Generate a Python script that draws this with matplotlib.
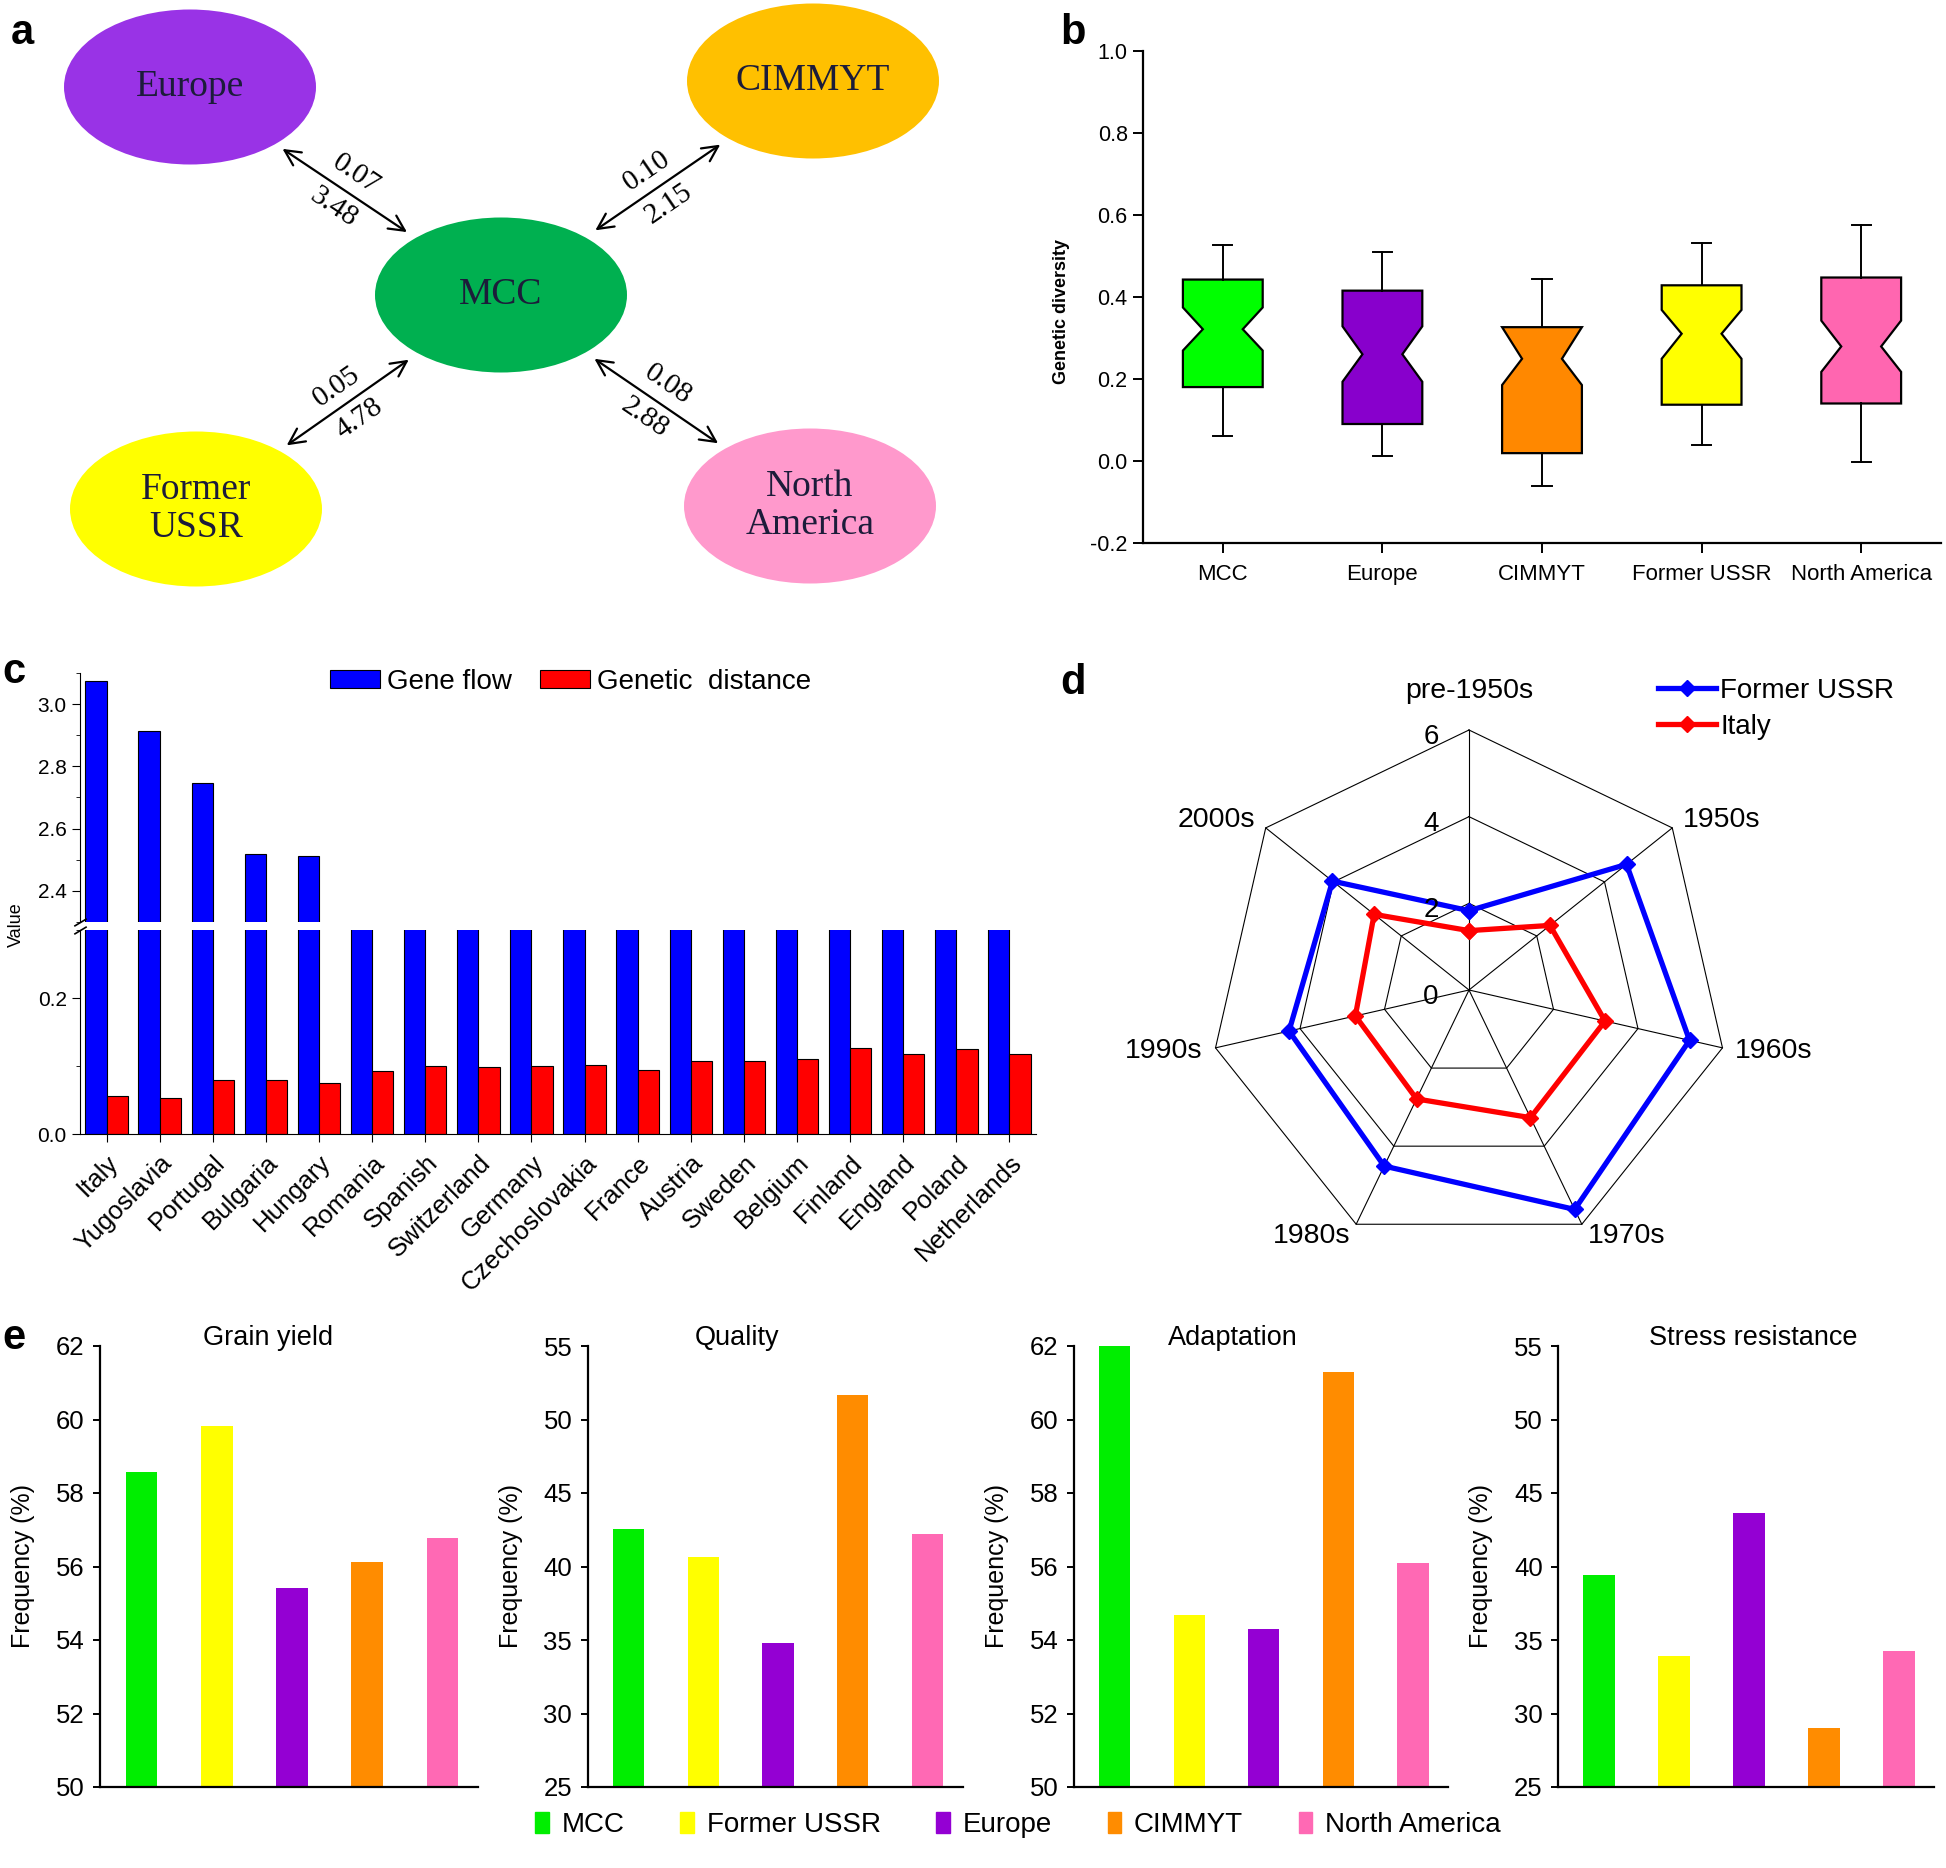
import numpy as np
import matplotlib
matplotlib.use("Agg")
import matplotlib.pyplot as plt
from matplotlib.patches import Ellipse, Patch
from matplotlib.lines import Line2D
from matplotlib.ticker import MultipleLocator, FormatStrFormatter

W, H = 1946, 1868
plt.rcParams['font.family'] = ['Liberation Sans', 'DejaVu Sans']

# ---- a: distance / gene flow between MCC and the other groups
net_groups = ['Europe', 'CIMMYT', 'Former\nUSSR', 'North\nAmerica']
net_distance = [0.07, 0.10, 0.05, 0.08]
net_geneflow = [3.48, 2.15, 4.78, 2.88]

# ---- b: genetic diversity (notched box stats)
regions = ['MCC', 'Europe', 'CIMMYT', 'Former USSR', 'North America']
gd_whislo = [0.061, 0.011, -0.061, 0.040, -0.003]
gd_q1 = [0.180, 0.090, 0.019, 0.137, 0.140]
gd_cilo = [0.269, 0.193, 0.185, 0.249, 0.217]
gd_med = [0.321, 0.260, 0.249, 0.310, 0.279]
gd_cihi = [0.374, 0.328, 0.326, 0.368, 0.342]
gd_q3 = [0.442, 0.415, 0.326, 0.428, 0.447]
gd_whishi = [0.526, 0.509, 0.444, 0.530, 0.575]
region_colors = ['#00ff00', '#8800cc', '#ff8800', '#ffff00', '#ff66b0']

# ---- c: MCC vs European countries
countries = ['Italy', 'Yugoslavia', 'Portugal', 'Bulgaria', 'Hungary', 'Romania',
             'Spanish', 'Switzerland', 'Germany', 'Czechoslovakia', 'France', 'Austria',
             'Sweden', 'Belgium', 'Finland', 'England', 'Poland', 'Netherlands']
gene_flow = [3.073, 2.915, 2.748, 2.518, 2.512, 2.21, 2.16, 2.13, 2.10, 2.06,
             2.03, 1.98, 1.95, 1.90, 1.85, 1.82, 1.78, 1.74]
gen_distance = [0.056, 0.053, 0.079, 0.079, 0.075, 0.093, 0.100, 0.098, 0.100,
                0.102, 0.094, 0.107, 0.108, 0.111, 0.126, 0.117, 0.125, 0.118]

# ---- d: cultivars per decade
decades = ['pre-1950s', '1950s', '1960s', '1970s', '1980s', '1990s', '2000s']
ussr_vals = [1.83, 4.65, 5.22, 5.62, 4.51, 4.26, 4.03]
italy_vals = [1.37, 2.39, 3.22, 3.27, 2.79, 2.69, 2.80]

# ---- e: trait frequencies
e_groups = ['MCC', 'Former USSR', 'Europe', 'CIMMYT', 'North America']
e_colors = ['#00ee00', '#ffff00', '#9400d3', '#ff8c00', '#ff69b4']
trait_names = ['Grain yield', 'Quality', 'Adaptation', 'Stress resistance']
grain_yield = [58.58, 59.81, 55.42, 56.11, 56.77]
quality = [42.53, 40.65, 34.79, 51.65, 42.21]
adaptation = [62.0, 54.68, 54.31, 61.29, 56.10]
stress_res = [39.42, 33.93, 43.66, 29.00, 34.25]

fig = plt.figure(figsize=(W / 100, H / 100), dpi=100)


def px_axes(l, t, r, b, **kw):
    return fig.add_axes([l / W, 1 - b / H, (r - l) / W, (b - t) / H], **kw)


# ================= a =================
axa = px_axes(0, 0, 1000, 620)
axa.set_xlim(0, 1000)
axa.set_ylim(620, 0)
axa.axis('off')
serif = ['Liberation Serif', 'DejaVu Serif']
centres = {'MCC': (501, 295), 'Europe': (190, 87), 'CIMMYT': (813, 81),
           'Former\nUSSR': (196, 509), 'North\nAmerica': (810, 506)}
fills = {'MCC': '#00b050', 'Europe': '#9933e6', 'CIMMYT': '#ffc000',
         'Former\nUSSR': '#ffff00', 'North\nAmerica': '#ff99cc'}
for name, (cx, cy) in centres.items():
    axa.add_patch(Ellipse((cx, cy), 252, 155, facecolor=fills[name], edgecolor='none'))
    axa.text(cx, cy, name, ha='center', va='center', fontsize=27, family=serif,
             color='#1c1c3a', linespacing=1.15)

mx, my = centres['MCC']
for g, dist, nm in zip(net_groups, net_distance, net_geneflow):
    gx, gy = centres[g]
    p0 = (gx + 0.29 * (mx - gx), gy + 0.29 * (my - gy))
    p1 = (gx + 0.705 * (mx - gx), gy + 0.705 * (my - gy))
    axa.annotate('', xy=p1, xytext=p0,
                 arrowprops=dict(arrowstyle='<->', lw=1.6, color='k', mutation_scale=28))
    dx, dy = p1[0] - p0[0], p1[1] - p0[1]
    ln = np.hypot(dx, dy)
    ux, uy = dx / ln, dy / ln
    nx, ny = uy, -ux
    if ny > 0:
        nx, ny = -nx, -ny
    ang = np.degrees(np.arctan2(-dy, dx))
    if ang > 90:
        ang -= 180
    if ang < -90:
        ang += 180
    cxm, cym = (p0[0] + p1[0]) / 2, (p0[1] + p1[1]) / 2
    axa.text(cxm + 20 * nx, cym + 20 * ny, f'{dist:.2f}', rotation=ang, rotation_mode='anchor',
             ha='center', va='center', fontsize=21, family=serif)
    axa.text(cxm - 20 * nx, cym - 20 * ny, f'{nm:.2f}', rotation=ang, rotation_mode='anchor',
             ha='center', va='center', fontsize=21, family=serif)

# ================= b =================
axb = px_axes(1143, 50.6, 1941, 543)
stats = []
for i in range(len(regions)):
    stats.append(dict(med=gd_med[i], q1=gd_q1[i], q3=gd_q3[i], whislo=gd_whislo[i],
                      whishi=gd_whishi[i], cilo=gd_cilo[i], cihi=gd_cihi[i], fliers=[]))
bp = axb.bxp(stats, positions=range(1, 6), widths=0.5, shownotches=True, patch_artist=True,
             showfliers=False, capwidths=0.12,
             boxprops=dict(edgecolor='k', linewidth=1.6),
             whiskerprops=dict(color='k', linewidth=1.4),
             capprops=dict(color='k', linewidth=1.4),
             medianprops=dict(linewidth=0))
for patch, c in zip(bp['boxes'], region_colors):
    patch.set_facecolor(c)
axb.set_xlim(0.5, 5.5)
axb.set_ylim(-0.2, 1.0)
axb.yaxis.set_major_locator(MultipleLocator(0.2))
axb.yaxis.set_major_formatter(FormatStrFormatter('%.1f'))
axb.set_xticks(range(1, 6))
axb.set_xticklabels(regions)
for s in ['top', 'right']:
    axb.spines[s].set_visible(False)
for s in ['left', 'bottom']:
    axb.spines[s].set_linewidth(1.6)
axb.tick_params(axis='both', direction='out', length=7, width=1.4)
axb.tick_params(axis='y', labelsize=15.5, pad=4)
axb.tick_params(axis='x', labelsize=16, pad=8)
fig.text(1062 / W, 1 - 312 / H, 'Genetic diversity', rotation=90, ha='center', va='center',
         fontsize=13, fontweight='bold')

# ================= c =================
xc = np.arange(len(countries))
axc_top = px_axes(80, 673, 1036, 922)
axc_bot = px_axes(80, 930, 1036, 1134)
for ax in (axc_top, axc_bot):
    ax.bar(xc - 0.2, gene_flow, 0.4, color='#0000ff', edgecolor='k', linewidth=0.8,
           label='Gene flow')
    ax.bar(xc + 0.2, gen_distance, 0.4, color='#ff0000', edgecolor='k', linewidth=0.8,
           label='Genetic  distance')
    ax.set_xlim(-0.5, 17.5)
    ax.spines['top'].set_visible(False)
    ax.spines['right'].set_visible(False)
    ax.tick_params(axis='y', which='major', direction='out', length=6, labelsize=15)
    ax.tick_params(axis='y', which='minor', direction='out', length=3)
axc_top.set_ylim(2.3, 3.1)
axc_top.yaxis.set_major_locator(MultipleLocator(0.2))
axc_top.yaxis.set_minor_locator(MultipleLocator(0.1))
axc_top.yaxis.set_major_formatter(FormatStrFormatter('%.1f'))
axc_top.spines['bottom'].set_visible(False)
axc_top.set_xticks([])
axc_bot.set_ylim(0, 0.3)
axc_bot.set_yticks([0.0, 0.2])
axc_bot.yaxis.set_minor_locator(MultipleLocator(0.1))
axc_bot.yaxis.set_major_formatter(FormatStrFormatter('%.1f'))
axc_bot.set_xticks(xc)
axc_bot.set_xticklabels(countries, rotation=45, ha='right', rotation_mode='anchor',
                        fontsize=18.5)
axc_bot.tick_params(axis='x', direction='out', length=6, pad=6)
# break marks
kw = dict(marker=[(-1, -0.6), (1, 0.6)], markersize=9, linestyle='none', color='k',
          mec='k', mew=1.2, clip_on=False)
axc_top.plot([0], [0], transform=axc_top.transAxes, **kw)
axc_bot.plot([0], [1], transform=axc_bot.transAxes, **kw)
axc_top.legend(loc='center left', bbox_to_anchor=(305 / W, 1 - 682 / H),
               bbox_transform=fig.transFigure, ncol=2, frameon=False, fontsize=20,
               handlelength=1.8, handleheight=0.6, handletextpad=0.25, columnspacing=1.0)
fig.text(16 / W, 1 - 925 / H, 'Value', rotation=90, ha='center', va='center', fontsize=13)

# ================= d =================
axd = px_axes(1209, 730, 1729, 1250, projection='polar')
axd.set_theta_zero_location('N')
axd.set_theta_direction(-1)
axd.set_ylim(0, 6)
axd.grid(False)
axd.spines['polar'].set_visible(False)
axd.set_xticks([])
axd.set_yticks([])
axd.patch.set_alpha(0)
theta = np.linspace(0, 2 * np.pi, len(decades) + 1)
for r in (2, 4, 6):
    axd.plot(theta, [r] * len(theta), color='k', lw=0.8, clip_on=False)
for a in theta[:-1]:
    axd.plot([a, a], [0, 6], color='k', lw=0.8, clip_on=False)
axd.plot(theta, ussr_vals + ussr_vals[:1], color='#0000ff', lw=3.8, marker='D', ms=8,
         clip_on=False, label='Former USSR')
axd.plot(theta, italy_vals + italy_vals[:1], color='#ff0000', lw=3.8, marker='D', ms=8,
         clip_on=False, label='Italy')
for r in (0, 2, 4, 6):
    axd.annotate(str(r), xy=(0, r), xytext=(-38, -7), textcoords='offset pixels',
                 ha='center', va='center', fontsize=20)
for a, lab in zip(theta[:-1], decades):
    s = np.sin(a)
    if abs(s) < 0.1:
        axd.text(a, 6.6, lab, ha='center', va='bottom', fontsize=20.5)
    else:
        axd.text(a, 6.3, lab, ha='left' if s > 0 else 'right', va='center', fontsize=20.5)
fig.legend(handles=[Line2D([], [], color='#0000ff', lw=3.8, marker='D', ms=8),
                    Line2D([], [], color='#ff0000', lw=3.8, marker='D', ms=8)],
           labels=['Former USSR', 'Italy'], loc='upper left',
           bbox_to_anchor=(1633 / W, 1 - 653 / H), frameon=False, fontsize=20,
           handlelength=2.1, handletextpad=0.15, labelspacing=0.35)

# ================= e =================
e_boxes = [(100, 478), (587.5, 962.5), (1073.7, 1448), (1558, 1934)]
e_vals = [grain_yield, quality, adaptation, stress_res]
e_ylims = [(50, 62), (25, 55), (50, 62), (25, 55)]
e_steps = [2, 5, 2, 5]
e_title_x = [0.445, 0.40, 0.425, 0.52]
xe = np.arange(len(e_groups))
for (l, r), vals, yl, st, tx, name in zip(e_boxes, e_vals, e_ylims, e_steps, e_title_x, trait_names):
    ax = px_axes(l, 1346, r, 1787)
    ax.bar(xe, vals, 0.42, color=e_colors)
    ax.set_xlim(-0.55, 4.47)
    ax.set_ylim(*yl)
    ax.yaxis.set_major_locator(MultipleLocator(st))
    ax.set_xticks([])
    for s in ['top', 'right']:
        ax.spines[s].set_visible(False)
    for s in ['left', 'bottom']:
        ax.spines[s].set_linewidth(1.6)
    ax.tick_params(axis='y', direction='out', length=5, width=1.4, labelsize=18.5, pad=6)
    ax.set_ylabel('Frequency (%)', fontsize=18)
    ax.yaxis.set_label_coords(-0.172, 0.5)
    ax.text(tx, 1.018, name, transform=ax.transAxes, ha='center', va='center', fontsize=19.5)
fig.legend(handles=[Patch(color=c) for c in e_colors], labels=e_groups, loc='center',
           bbox_to_anchor=(1018 / W, 1 - 1825 / H), ncol=5, frameon=False, fontsize=20,
           handlelength=0.5, handleheight=0.8, handletextpad=0.45, columnspacing=2.0)

# panel letters
for lab, x, y in [('a', 22, 33), ('b', 1073, 33), ('c', 14, 672), ('d', 1073, 683), ('e', 14, 1338)]:
    fig.text(x / W, 1 - y / H, lab, ha='center', va='center', fontsize=30, fontweight='bold')

fig.savefig('out.png', dpi=100, facecolor='white')
